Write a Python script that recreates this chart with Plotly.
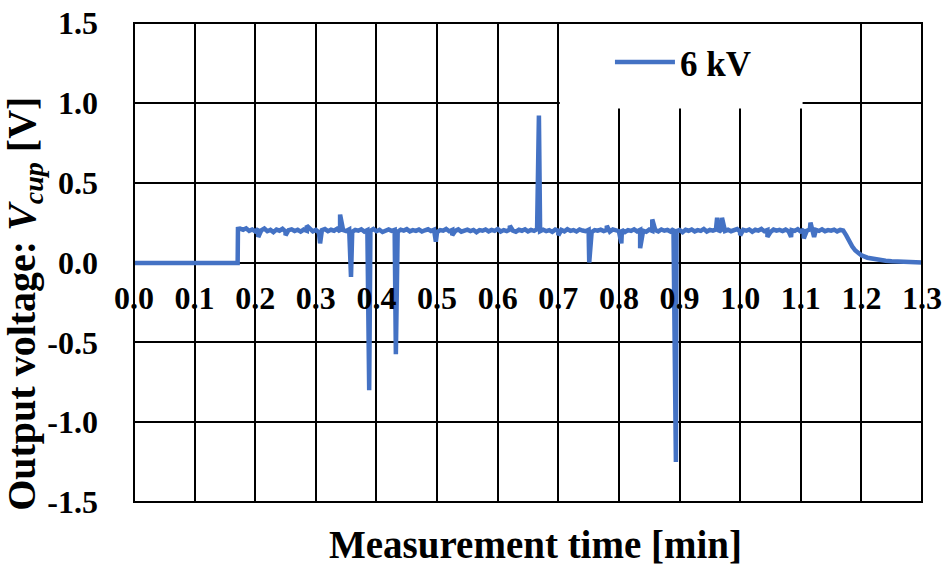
import numpy as np
import plotly.graph_objects as go

# ---------------- data ----------------
x_tick_vals = [0.0, 0.1, 0.2, 0.3, 0.4, 0.5, 0.6, 0.7, 0.8, 0.9, 1.0, 1.1, 1.2, 1.3]
x_tick_text = ["0.0", "0.1", "0.2", "0.3", "0.4", "0.5", "0.6", "0.7", "0.8", "0.9", "1.0", "1.1", "1.2", "1.3"]
y_tick_vals = [-1.5, -1.0, -0.5, 0.0, 0.5, 1.0, 1.5]
y_tick_text = ["-1.5", "-1.0", "-0.5", "0.0", "0.5", "1.0", "1.5"]

# baseline before voltage is applied
base_t = [0.0, 0.05, 0.10, 0.15, 0.171]
base_v = [-0.003, -0.004, -0.003, -0.004, -0.003]

# plateau samples (every 0.005 min from 0.175 to 1.165 min)
plateau_start = 0.175
plateau_step = 0.005
plateau_v = [
    0.212, 0.205, 0.214, 0.198, 0.207, 0.195, 0.210, 0.202, 0.213, 0.196, 0.204, 0.190, 0.206, 0.199, 0.211, 0.194, 0.203, 0.208, 0.197, 0.205,
    0.193, 0.206, 0.199, 0.210, 0.195, 0.204, 0.188, 0.202, 0.209, 0.196, 0.205, 0.199, 0.211, 0.194, 0.203, 0.197, 0.207, 0.192, 0.204, 0.199,
    0.208, 0.194, 0.203, 0.199, 0.210, 0.196, 0.205, 0.191, 0.202, 0.207, 0.198, 0.204, 0.193, 0.206, 0.200, 0.209, 0.195, 0.203, 0.198, 0.206,
    0.194, 0.202, 0.208, 0.197, 0.205, 0.191, 0.203, 0.199, 0.210, 0.196, 0.204, 0.198, 0.207, 0.193, 0.201, 0.206, 0.197, 0.204, 0.190, 0.203,
    0.199, 0.207, 0.195, 0.204, 0.198, 0.210, 0.194, 0.203, 0.197, 0.206, 0.200, 0.193, 0.205, 0.199, 0.208, 0.195, 0.204, 0.198, 0.209, 0.196,
    0.205, 0.197, 0.203, 0.192, 0.206, 0.199, 0.204, 0.195, 0.209, 0.198, 0.203, 0.194, 0.207, 0.200, 0.196, 0.205, 0.191, 0.203, 0.199, 0.206,
    0.197, 0.204, 0.193, 0.207, 0.200, 0.196, 0.205, 0.191, 0.203, 0.198, 0.208, 0.195, 0.204, 0.199, 0.192, 0.206, 0.198, 0.203, 0.195, 0.207,
    0.199, 0.204, 0.194, 0.209, 0.197, 0.203, 0.190, 0.205, 0.199, 0.207, 0.195, 0.203, 0.198, 0.210, 0.194, 0.204, 0.199, 0.206, 0.193, 0.208,
    0.198, 0.205, 0.196, 0.203, 0.209, 0.194, 0.204, 0.199, 0.207, 0.193, 0.205, 0.200, 0.210, 0.196, 0.203, 0.191, 0.206, 0.199, 0.204, 0.197,
    0.206, 0.195, 0.203, 0.198, 0.209, 0.194, 0.205, 0.199, 0.207, 0.193, 0.204, 0.198, 0.208, 0.196, 0.203, 0.199, 0.206, 0.195, 0.204,
]

# discharge spikes / dips
spike_t = [0.1715, 0.205, 0.250, 0.285, 0.307, 0.340, 0.358, 0.388, 0.432, 0.498, 0.525, 0.620,
           0.668, 0.700, 0.751, 0.780, 0.804, 0.835, 0.855, 0.894, 0.962, 0.970, 1.000,
           1.045, 1.084, 1.105, 1.116, 1.122]
spike_v = [0.21, 0.16, 0.17, 0.23, 0.12, 0.30, -0.09, -0.80, -0.575, 0.13, 0.17, 0.23,
           0.92, 0.17, 0.00, 0.23, 0.12, 0.09, 0.27, -1.25, 0.28, 0.28, 0.17,
           0.16, 0.16, 0.15, 0.25, 0.16]

# decay after the voltage is switched off
decay_t = [1.170, 1.175, 1.180, 1.185, 1.190, 1.195, 1.200, 1.210, 1.220, 1.230,
           1.240, 1.250, 1.260, 1.270, 1.280, 1.290, 1.300]
decay_v = [0.20, 0.17, 0.13, 0.10, 0.075, 0.058, 0.045, 0.030, 0.022, 0.016,
           0.011, 0.008, 0.005, 0.003, 0.002, 0.001, 0.000]

series_name = "6 kV"

# ---------------- assemble series ----------------
plateau_t = plateau_start + plateau_step * np.arange(len(plateau_v))
t_all = np.concatenate([base_t, plateau_t, spike_t, decay_t])
v_all = np.concatenate([base_v, plateau_v, spike_v, decay_v])
order = np.argsort(t_all, kind="stable")
t_all = t_all[order]
v_all = v_all[order]

FONT = "Liberation Serif, Times New Roman, serif"
BLUE = "#4472C4"

fig = go.Figure()
fig.add_trace(go.Scatter(x=t_all, y=v_all, mode="lines", name=series_name,
                         line=dict(color=BLUE, width=4.5), showlegend=True))

fig.update_layout(
    width=944, height=566,
    margin=dict(l=134, r=22, t=23, b=64, autoexpand=False),
    paper_bgcolor="white", plot_bgcolor="white",
    font=dict(family=FONT, color="black"),
    showlegend=True,
    legend=dict(x=0.604, y=0.918, xanchor="left", yanchor="middle",
                bgcolor="rgba(0,0,0,0)", borderwidth=0, itemwidth=60,
                font=dict(family=FONT, size=35, color="black", weight="bold")),
    xaxis=dict(range=[0, 1.3], tickvals=x_tick_vals, ticktext=x_tick_text,
               showgrid=True, gridcolor="black", gridwidth=2, zeroline=False,
               showline=False, ticks="", anchor="free", position=0.5,
               ticklabelstandoff=13, automargin=False,
               tickfont=dict(family=FONT, size=32, color="black", weight="bold")),
    yaxis=dict(range=[-1.5, 1.5], tickvals=y_tick_vals, ticktext=y_tick_text,
               showgrid=True, gridcolor="black", gridwidth=2, zeroline=False,
               showline=False, ticks="", ticklabelstandoff=35, automargin=False,
               tickfont=dict(family=FONT, size=32, color="black", weight="bold")),
    shapes=[
        dict(type="rect", xref="x", yref="y", x0=0.7025, x1=1.103, y0=0.965, y1=1.5,
             fillcolor="white", line=dict(width=0), layer="between"),
        dict(type="rect", xref="paper", yref="paper", x0=0, x1=1, y0=0, y1=1,
             line=dict(color="black", width=2), fillcolor="rgba(0,0,0,0)", layer="above"),
    ],
    annotations=[
        dict(text="<b>Measurement time [min]</b>", xref="paper", yref="paper",
             x=0.51, y=-0.088, xanchor="center", yanchor="middle", showarrow=False,
             font=dict(family=FONT, size=39, color="black")),
        dict(text="<b>Output voltage: <i>V</i><sub><i>cup</i></sub> [V]</b>", xref="paper", yref="paper",
             x=-0.140, y=0.413, xanchor="center", yanchor="middle", textangle=-90, showarrow=False,
             font=dict(family=FONT, size=40, color="black")),
    ],
)

fig.write_html("out.html", config={"displayModeBar": False},
               post_script="document.body.style.margin='0px';document.body.style.overflow='hidden';")
